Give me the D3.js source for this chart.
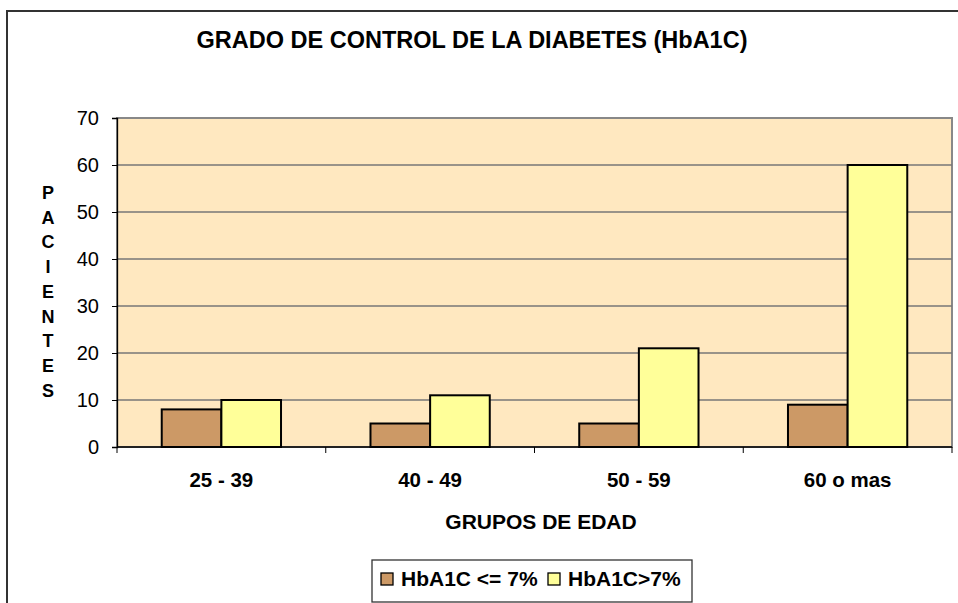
<!DOCTYPE html>
<html>
<head>
<meta charset="utf-8">
<script src="https://cdn.jsdelivr.net/npm/d3@7"></script>
<style>
  body { margin: 0; background: #fff; }
  text { font-family: "Liberation Sans", Arial, sans-serif; }
</style>
</head>
<body>
<div id="chart"></div>
<script>
const categories = ['25 - 39', '40 - 49', '50 - 59', '60 o mas'];
const seriesNames = ['HbA1C <= 7%', 'HbA1C>7%'];
const lowValues = [8, 5, 5, 9];
const highValues = [10, 11, 21, 60];
const yTicks = [0, 10, 20, 30, 40, 50, 60, 70];
const colors = ['#CC9966', '#FFFF99'];

const width = 958, height = 603;
const plot = { left: 117, top: 118, right: 952, bottom: 447 };

const svg = d3.select('#chart').append('svg')
  .attr('width', width).attr('height', height);

// outer frame
svg.append('rect')
  .attr('x', 7).attr('y', 11)
  .attr('width', 1000).attr('height', 700)
  .attr('fill', 'none').attr('stroke', '#333').attr('stroke-width', 2);

svg.append('text')
  .attr('x', 472).attr('y', 48)
  .attr('text-anchor', 'middle')
  .attr('font-size', 23.5).attr('font-weight', 'bold')
  .text('GRADO DE CONTROL DE LA DIABETES (HbA1C)');

const x0 = d3.scaleBand().domain(categories)
  .range([plot.left, plot.right]).paddingInner(0).paddingOuter(0);
const x1 = d3.scaleBand().domain(seriesNames)
  .range([0, x0.bandwidth()]).paddingInner(0).paddingOuter(0.75);
const y = d3.scaleLinear().domain([0, 70]).range([plot.bottom, plot.top]);

// plot background
svg.append('rect')
  .attr('x', plot.left).attr('y', plot.top)
  .attr('width', plot.right - plot.left).attr('height', plot.bottom - plot.top)
  .attr('fill', '#FFE8C0').attr('stroke', '#888').attr('stroke-width', 2);

// grid
svg.append('g').selectAll('line').data(yTicks.filter(d => d > 0 && d < 70))
  .join('line')
  .attr('x1', plot.left).attr('x2', plot.right)
  .attr('y1', d => y(d)).attr('y2', d => y(d))
  .attr('stroke', '#777').attr('stroke-width', 1.3);

// bars
const rows = categories.map((c, i) => ({ cat: c, vals: [lowValues[i], highValues[i]] }));
const groups = svg.append('g').selectAll('g').data(rows).join('g')
  .attr('transform', d => 'translate(' + x0(d.cat) + ',0)');
groups.selectAll('rect')
  .data(d => d.vals.map((v, j) => ({ name: seriesNames[j], value: v, j: j })))
  .join('rect')
  .attr('x', d => x1(d.name))
  .attr('y', d => y(d.value))
  .attr('width', x1.bandwidth())
  .attr('height', d => y(0) - y(d.value))
  .attr('fill', d => colors[d.j])
  .attr('stroke', '#000').attr('stroke-width', 2);

// y axis
const yAxis = svg.append('g')
  .attr('transform', 'translate(' + plot.left + ',0)')
  .call(d3.axisLeft(y).tickValues(yTicks).tickSize(5).tickPadding(13));
yAxis.select('.domain').attr('stroke', '#000').attr('stroke-width', 1.3);
yAxis.selectAll('.tick line').attr('stroke', '#000');
yAxis.selectAll('.tick text').attr('font-size', 20).attr('fill', '#000');

// x axis
const xAxis = svg.append('g')
  .attr('transform', 'translate(0,' + plot.bottom + ')');
xAxis.append('line')
  .attr('x1', plot.left).attr('x2', plot.right)
  .attr('stroke', '#000').attr('stroke-width', 1.3);
xAxis.selectAll('line.tk').data(categories.map(c => x0(c)).concat([plot.right]))
  .join('line').attr('class', 'tk')
  .attr('x1', d => d).attr('x2', d => d)
  .attr('y1', 0).attr('y2', 6)
  .attr('stroke', '#000');
xAxis.selectAll('text').data(categories).join('text')
  .attr('x', d => x0(d) + x0.bandwidth() / 2)
  .attr('y', 40)
  .attr('text-anchor', 'middle')
  .attr('font-size', 20.5).attr('font-weight', 'bold')
  .text(d => d);

svg.append('text')
  .attr('x', 541).attr('y', 529)
  .attr('text-anchor', 'middle')
  .attr('font-size', 21).attr('font-weight', 'bold')
  .text('GRUPOS DE EDAD');

// vertical y title
const yTitle = 'PACIENTES'.split('');
svg.append('g').selectAll('text').data(yTitle).join('text')
  .attr('x', 48)
  .attr('y', (d, i) => 199 + i * 24.7)
  .attr('text-anchor', 'middle')
  .attr('font-size', 18).attr('font-weight', 'bold')
  .text(d => d);

// legend
const legend = svg.append('g').attr('transform', 'translate(372,560)');
legend.append('rect')
  .attr('width', 320).attr('height', 42)
  .attr('fill', '#fff').attr('stroke', '#333').attr('stroke-width', 1.3);
const legX = [9, 176];
const items = legend.selectAll('g').data(seriesNames).join('g')
  .attr('transform', (d, i) => 'translate(' + legX[i] + ',0)');
items.append('rect')
  .attr('x', 0).attr('y', 13).attr('width', 12).attr('height', 12)
  .attr('fill', (d, i) => colors[i]).attr('stroke', '#000').attr('stroke-width', 1.3);
items.append('text')
  .attr('x', 20).attr('y', 26)
  .attr('font-size', 21).attr('font-weight', 'bold')
  .text(d => d);
</script>
</body>
</html>
